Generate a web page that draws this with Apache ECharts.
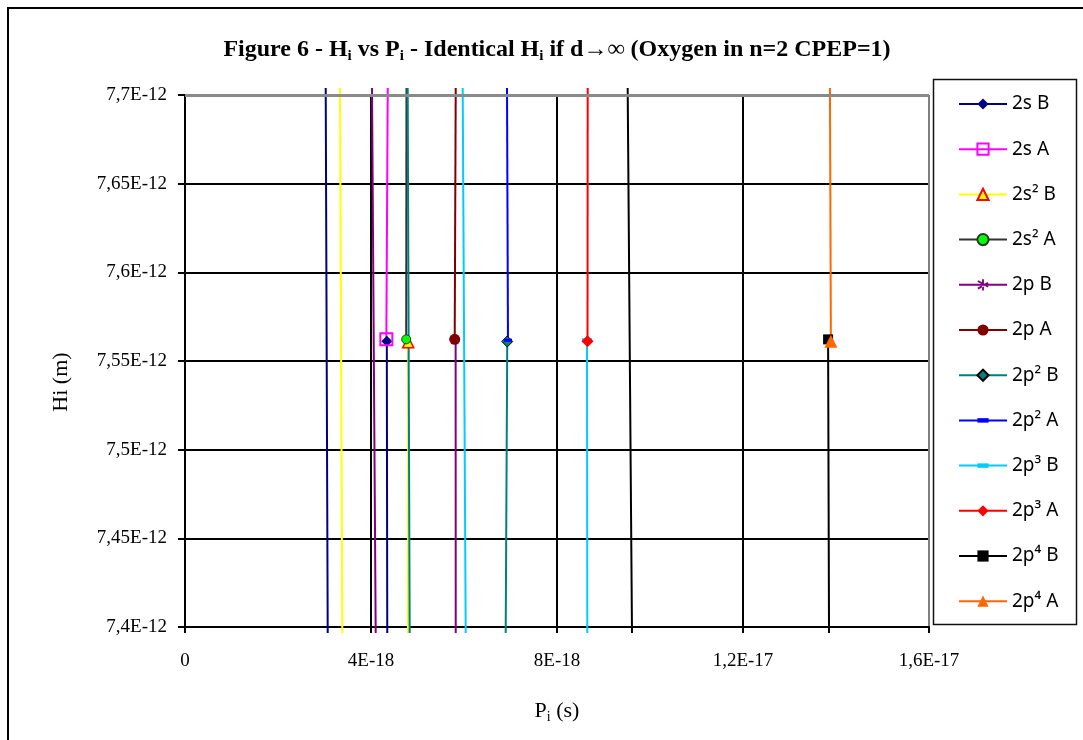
<!DOCTYPE html>
<html>
<head>
<meta charset="utf-8">
<script src="https://cdn.jsdelivr.net/npm/echarts@6/dist/echarts.min.js"></script>
<style>html,body{margin:0;padding:0;background:#fff}#c{width:1083px;height:740px}</style>
</head>
<body>
<div id="c"></div>
<script>
// P values in units of 1E-18 s, H values in units of 1E-12 m
const seriesNames = ['2s B','2s A','2s² B','2s² A','2p B','2p A','2p² B','2p² A','2p³ B','2p³ A','2p⁴ B','2p⁴ A'];
// marker point of each series
const markerP = [4.34, 4.33, 4.80, 4.757, 5.82, 5.80, 6.93, 6.946, 8.645, 8.656, 13.83, 13.89];
const markerH = [7.5612, 7.5622, 7.5606, 7.5622, 7.5618, 7.5622, 7.5610, 7.5617, 7.5617, 7.5611, 7.5622, 7.5612];
// B series: P where the branch from the marker leaves the bottom; A series: P where it leaves the top
const branchEndP = [4.35, 4.36, 4.796, 4.763, 5.822, 5.822, 6.897, 6.925, 8.652, 8.66, 13.85, 13.87];
// second (far) branch of the B series, top and bottom P
const farTopP    = [3.026, null, 3.333, null, 4.022, null, 4.789, null, 5.972, null, 9.52, null];
const farBottomP = [3.069, null, 3.383, null, 4.101, null, 4.832, null, 6.037, null, 9.613, null];
// H where the drawn lines end (just beyond the axis range, as in the picture)
const lineTopH = 7.704;
const lineBottomH = 7.3966;

const xTickLabels = ['0', '4E-18', '8E-18', '1,2E-17', '1,6E-17'];
const yTickLabels = ['7,4E-12', '7,45E-12', '7,5E-12', '7,55E-12', '7,6E-12', '7,65E-12', '7,7E-12'];

// ---- styles ----
const DASH = 'path://M0,-3h0 M0,0h10v4h-10z M0,7h0';
const STAR = 'path://M4.2,0h1.6v10h-1.6z M0.2,2.3l0.8,-1.4l8.8,5.1l-0.8,1.4z M0.2,7.7l0.8,1.4l8.8,-5.1l-0.8,-1.4z';
const styles = [
  {line:'#000080', symbol:'diamond',  size:11, fill:'#000080', border:'#000080', bw:0},
  {line:'#FF00FF', symbol:'rect',     size:12, fill:'rgba(255,255,255,0)', border:'#FF00FF', bw:2},
  {line:'#FFFF00', symbol:'triangle', size:11, fill:'#FFFF00', border:'#FF0000', bw:1.5},
  {line:'#333333', symbol:'circle',   size:9,  fill:'#00FF00', border:'#333333', bw:1},
  {line:'#800080', symbol:STAR,       size:9,  fill:'#800080', border:'#800080', bw:0},
  {line:'#800000', symbol:'circle',   size:11, fill:'#800000', border:'#800000', bw:0},
  {line:'#008080', symbol:'diamond',  size:11, fill:'#008080', border:'#000000', bw:1},
  {line:'#0000FF', symbol:DASH,       size:8,  fill:'#0000FF', border:'#0000FF', bw:0},
  {line:'#00CCFF', symbol:DASH,       size:10, fill:'#00CCFF', border:'#00CCFF', bw:0},
  {line:'#FF0000', symbol:'diamond',  size:12, fill:'#FF0000', border:'#FF0000', bw:0},
  {line:'#000000', symbol:'rect',     size:10, fill:'#000000', border:'#000000', bw:0},
  {line:'#FF6600', symbol:'triangle', size:13, fill:'#FF6600', border:'#FF6600', bw:0}
];

const SERIF = '"Liberation Serif", "Times New Roman", serif';

const lineSeries = seriesNames.map((name, i) => {
  let data;
  if (farTopP[i] != null) {
    data = [[farTopP[i], lineTopH], [farBottomP[i], lineBottomH], [null, null],
            [markerP[i], markerH[i]], [branchEndP[i], lineBottomH]];
  } else {
    data = [[branchEndP[i], lineTopH], [markerP[i], markerH[i]]];
  }
  const s = styles[i];
  return {
    type: 'line', name, data, clip: false, showSymbol: false, connectNulls: false,
    symbol: s.symbol, symbolKeepAspect: true, silent: true, animation: false, z: 2,
    lineStyle: {color: s.line, width: 2},
    itemStyle: {color: s.fill, borderColor: s.border, borderWidth: s.bw},
    emphasis: {disabled: true},
    markLine: i === 0 ? {
      silent: true, symbol: 'none', label: {show: false}, animation: false,
      lineStyle: {color: '#8a8a8a', width: 3, type: 'solid'},
      data: [{yAxis: 7.7}]
    } : undefined
  };
});

const markerSeries = seriesNames.map((name, i) => {
  const s = styles[i];
  return {
    type: 'scatter', name, data: [[markerP[i], markerH[i]]], z: 3,
    symbol: s.symbol, symbolSize: s.size, symbolKeepAspect: true, silent: true, animation: false,
    itemStyle: {color: s.fill, borderColor: s.border, borderWidth: s.bw, opacity: 1},
    emphasis: {disabled: true}
  };
});

const chart = echarts.init(document.getElementById('c'), null, {renderer: 'canvas'});
chart.setOption({
  backgroundColor: '#fff',
  animation: false,
  grid: {left: 185, right: 154, top: 95, bottom: 113, containLabel: false},
  xAxis: {
    type: 'value', min: 0, max: 16, interval: 4,
    axisLine: {show: true, onZero: false, lineStyle: {color: '#000', width: 2}},
    axisTick: {show: true, inside: false, length: 6, lineStyle: {color: '#000', width: 2}},
    axisLabel: {
      margin: 25, color: '#000', fontFamily: SERIF, fontSize: 19,
      formatter: v => xTickLabels[Math.round(v / 4)]
    },
    splitLine: {show: true, lineStyle: {color: ['#000', '#000', '#000', '#000', '#808080'], width: 2}}
  },
  yAxis: {
    type: 'value', min: 7.4, max: 7.7, interval: 0.05,
    axisLine: {show: true, onZero: false, lineStyle: {color: '#000', width: 2}},
    axisTick: {show: true, inside: false, length: 7, lineStyle: {color: '#000', width: 2}},
    axisLabel: {
      margin: 18, color: '#000', fontFamily: SERIF, fontSize: 19,
      formatter: v => yTickLabels[Math.round((v - 7.4) / 0.05)]
    },
    splitLine: {show: true, showMaxLine: false, lineStyle: {color: '#000', width: 2}}
  },
  legend: {
    orient: 'vertical', left: 958, top: 94, padding: 0,
    itemWidth: 48, itemHeight: 14, itemGap: 25.2,
    data: seriesNames,
    selectedMode: false,
    textStyle: {fontFamily: '"Noto Sans", sans-serif', fontSize: 19, color: '#000', lineHeight: 20}
  },
  graphic: [
    {type: 'rect', shape: {x: 8, y: 8, width: 1200, height: 900}, style: {fill: 'none', stroke: '#000', lineWidth: 2}, silent: true, z: 0},
    {type: 'rect', shape: {x: 933.5, y: 79.5, width: 143, height: 545}, style: {fill: 'none', stroke: '#111', lineWidth: 1.5}, silent: true, z: 0},
    {
      type: 'text', x: 557, y: 50, silent: true,
      style: {
        text: '{b|Figure 6 - H}{s|i}{b| vs P}{s|i}{b| - Identical H}{s|i}{b| if d→∞ (Oxygen in n=2 CPEP=1)}',
        align: 'center', verticalAlign: 'middle',
        rich: {
          b: {fontFamily: SERIF, fontSize: 24, fontWeight: 'bold', lineHeight: 28, fill: '#000'},
          s: {fontFamily: SERIF, fontSize: 15, fontWeight: 'bold', lineHeight: 15, verticalAlign: 'bottom', fill: '#000'}
        }
      }
    },
    {
      type: 'text', x: 557, y: 711, silent: true,
      style: {
        text: '{n|P}{s|i}{n| (s)}',
        align: 'center', verticalAlign: 'middle',
        rich: {
          n: {fontFamily: SERIF, fontSize: 22, lineHeight: 26, fill: '#000'},
          s: {fontFamily: SERIF, fontSize: 14, lineHeight: 14, verticalAlign: 'bottom', fill: '#000'}
        }
      }
    },
    {
      type: 'text', x: 61, y: 382, rotation: Math.PI / 2, silent: true,
      style: {text: 'Hi (m)', font: '22px ' + SERIF, fill: '#000', align: 'center', verticalAlign: 'middle'}
    }
  ],
  series: lineSeries.concat(markerSeries)
});
</script>
</body>
</html>
